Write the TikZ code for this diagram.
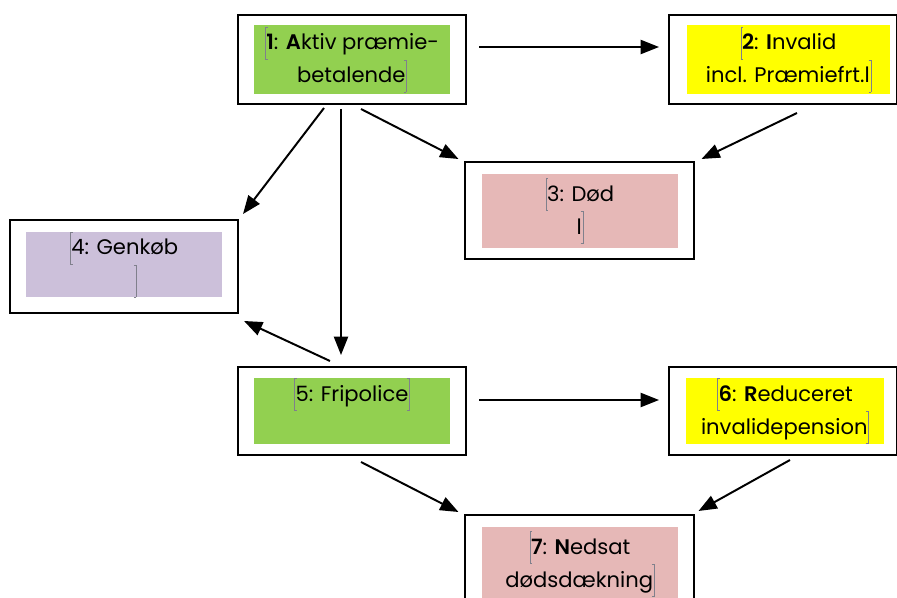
\documentclass[tikz,border=0pt]{standalone}
\usepackage{fontspec}
\setmainfont{Poppins}[BoldFont={Poppins SemiBold}]
\usetikzlibrary{positioning,arrows.meta,calc}
\definecolor{stGreen}{RGB}{146,208,80}
\definecolor{stYellow}{RGB}{255,255,0}
\definecolor{stPink}{RGB}{230,184,183}
\definecolor{stLilac}{RGB}{204,192,218}
\definecolor{fdField}{RGB}{128,128,140}
\newcommand{\fldL}{{\color{fdField}\rule[-0.45em]{0.4pt}{1.55em}\rlap{\rule[-0.45em]{1.5pt}{0.4pt}}\rlap{\rule[1.06em]{1.5pt}{0.4pt}}\hspace{0.6pt}}}
\newcommand{\fldR}{{\color{fdField}\hspace{0.6pt}\llap{\rule[-0.45em]{1.5pt}{0.4pt}}\llap{\rule[1.06em]{1.5pt}{0.4pt}}\rule[-0.45em]{0.4pt}{1.55em}}}
\tikzset{
    base/.style={font=\fontsize{15}{23.4}\selectfont, align=center},
    frame/.style={rectangle, draw=black, line width=1.4pt, fill=white,
                  minimum width=5.7cm, inner sep=0pt},
    field/.style={base, rectangle, inner sep=0pt, minimum width=4.9cm, text=black,
                  execute at begin node={\rule{0pt}{23pt}}},
    flow/.style={-{Triangle[length=13pt,width=10pt]}, line width=1.4pt, color=black}
}
\begin{document}
\begin{tikzpicture}[x=0.025cm, y=-0.025cm]
  \useasboundingbox (0,0) rectangle (897,598);

  % frames
  \node[frame, minimum height=2.225cm] (s1) at (352,59.5) {};
  \node[frame, minimum height=2.225cm] (s2) at (783,59.5) {};
  \node[frame, minimum height=2.425cm] (s3) at (579.5,210.5) {};
  \node[frame, minimum height=2.325cm] (s4) at (124,266.5) {};
  \node[frame, minimum height=2.2cm] (s5) at (352,411) {};
  \node[frame, minimum height=2.2cm] (s6) at (783,411) {};
  \node[frame, minimum height=2.425cm] (s7) at (579.5,563.5) {};

  % coloured fields
  \node[field, fill=stGreen, minimum height=1.7cm] (f1) at (s1)
    {\fldL\textbf{1}: \textbf{A}ktiv præmie-\\betalende\fldR};
  \node[field, fill=stYellow, minimum width=5.075cm, minimum height=1.7cm] (f2) at ($(s2)+(5.5,0)$)
    {\fldL\textbf{2}: \textbf{I}nvalid\\incl. Præmiefrt.l\fldR};
  \node[field, fill=stPink, minimum height=1.85cm] (f3) at ($(s3)+(0.5,0.5)$)
    {\fldL 3: Død\\l\fldR};
  \node[field, fill=stLilac, minimum height=1.625cm] (f4) at ($(s4)+(0,-2)$)
    {\fldL 4: Genkøb\\\hspace*{17pt}\fldR};
  \node[field, fill=stGreen, minimum height=1.65cm] (f5) at (s5)
    {\fldL 5: Fripolice\fldR\\\strut};
  \node[field, fill=stYellow, minimum width=4.95cm, minimum height=1.65cm] (f6) at ($(s6)+(2,0)$)
    {\fldL\textbf{6}: \textbf{R}educeret\\invalidepension\fldR};
  \node[field, fill=stPink, minimum height=1.85cm] (f7) at ($(s7)+(0.5,0.5)$)
    {\fldL\textbf{7}: \textbf{N}edsat\\dødsdækning\fldR};

  % transitions
  \draw[flow] ($(s1.east)+(12,-12.5)$) -- ($(s2.west)+(-9,-12.5)$);
  \draw[flow] ($(s1.south)+(9,4)$) -- ($(s3.north west)+(-6,-2)$);
  \draw[flow] ($(s2.south)+(14,8)$) -- ($(s3.north east)+(7,-2)$);
  \draw[flow] ($(s1.south)+(-28,3)$) -- ($(s4.north east)+(4,-5)$);
  \draw[flow] ($(s1.south)+(-11,4)$) -- ($(s5.north)+(-11,-11)$);
  \draw[flow] ($(s5.north)+(-22,-5)$) -- ($(s4.south east)+(5,7)$);
  \draw[flow] ($(s5.east)+(12,-11)$) -- ($(s6.west)+(-9,-11)$);
  \draw[flow] ($(s5.south)+(9,6)$) -- ($(s7.north west)+(-6,-2)$);
  \draw[flow] ($(s6.south)+(7,4)$) -- ($(s7.north east)+(4,-3)$);
\end{tikzpicture}
\end{document}
